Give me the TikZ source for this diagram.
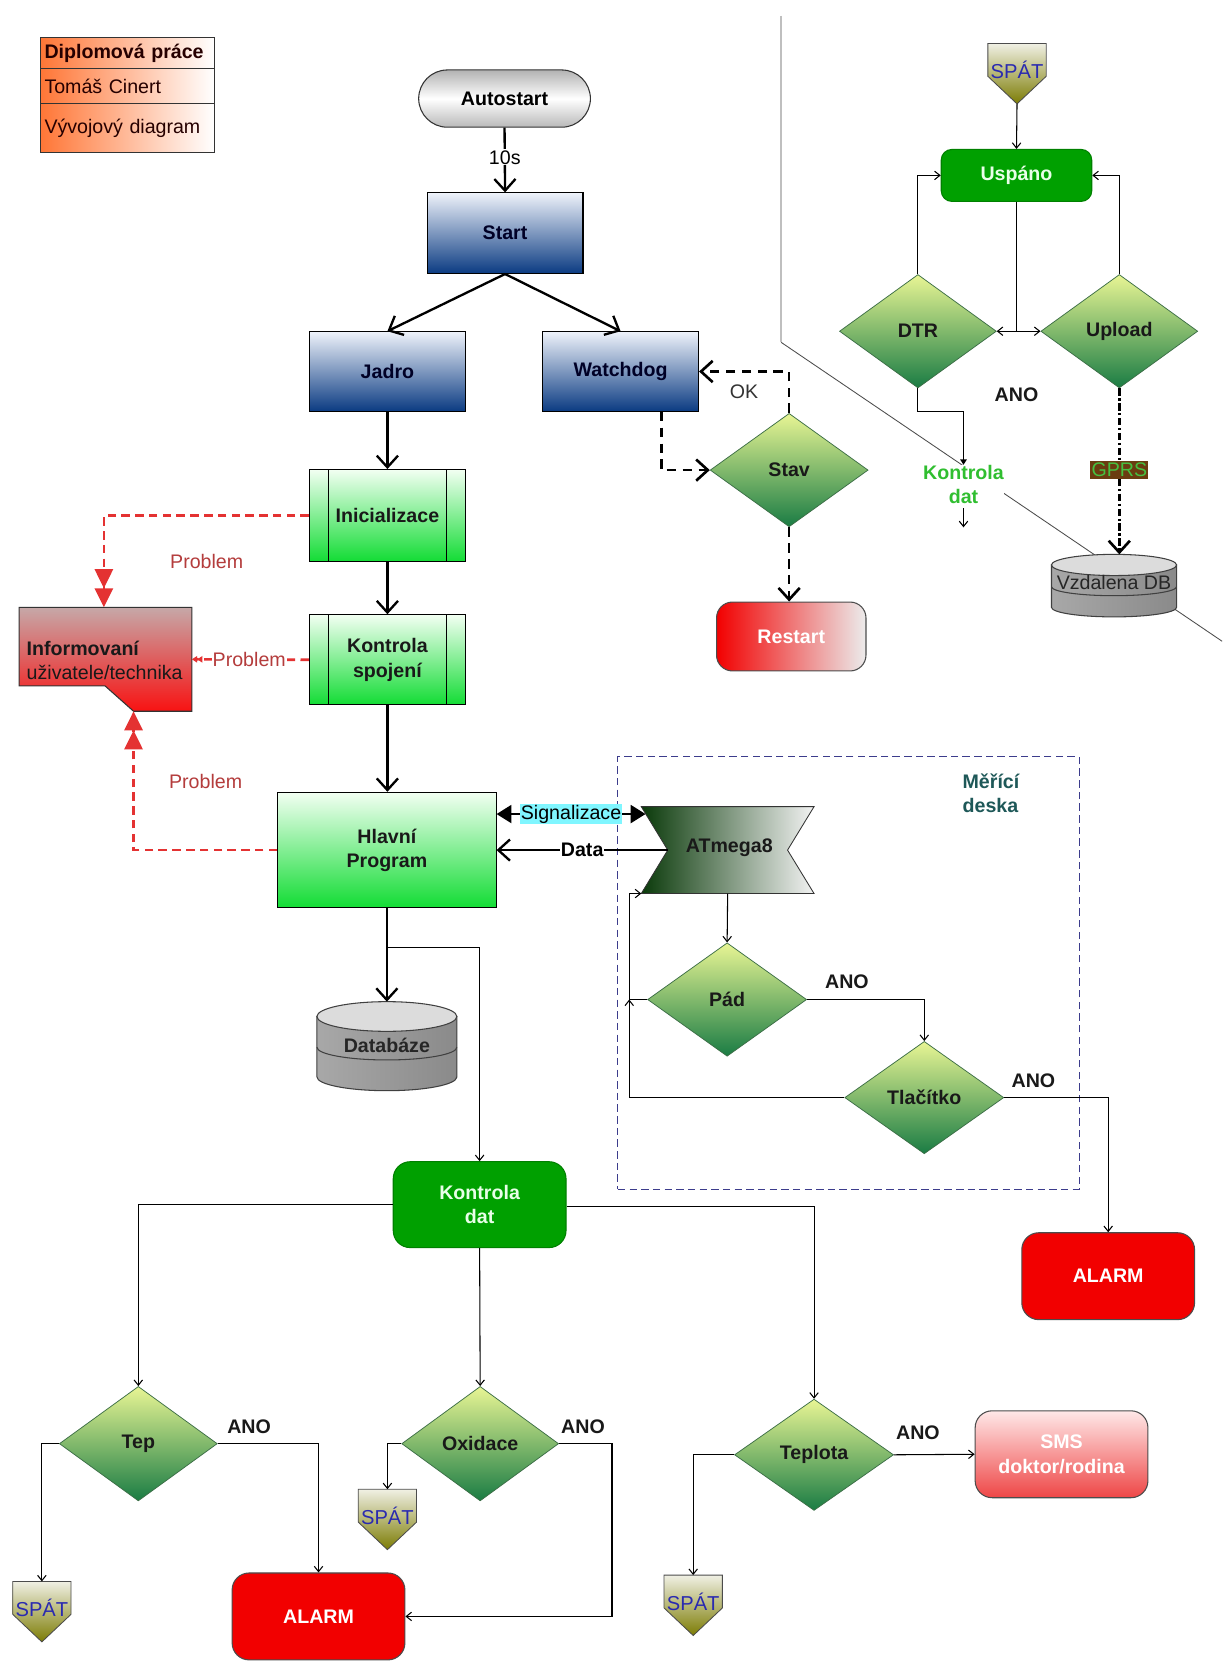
\documentclass[tikz,border=0pt]{standalone}
\usepackage{fontspec}
\setmainfont{Liberation Sans}
\usetikzlibrary{arrows.meta,shapes.geometric,calc}

\definecolor{blueTop}{HTML}{EEF2FA}
\definecolor{blueBot}{HTML}{0B3B82}
\definecolor{grnTop}{HTML}{F2FFF2}
\definecolor{grnBot}{HTML}{12DC34}
\definecolor{dmTop}{HTML}{E8F594}
\definecolor{dmBot}{HTML}{1A7C44}
\definecolor{dmEdge}{HTML}{3C6E46}
\definecolor{okGreen}{HTML}{00A000}
\definecolor{okText}{HTML}{E8FFE8}
\definecolor{alarmRed}{HTML}{F20000}
\definecolor{redLine}{HTML}{E43232}
\definecolor{probText}{HTML}{B43C3C}
\definecolor{infoTop}{HTML}{C6A8A8}
\definecolor{infoBot}{HTML}{F81212}
\definecolor{legOrange}{HTML}{FF7636}
\definecolor{spatTop}{HTML}{F0F0E4}
\definecolor{spatBot}{HTML}{7C7C04}
\definecolor{spatBlue}{HTML}{2A2AB0}
\definecolor{boardBlue}{HTML}{3C3C8C}
\definecolor{boardText}{HTML}{1E5858}
\definecolor{sigCyan}{HTML}{80F6FF}
\definecolor{gprsBrown}{HTML}{6A3C10}
\definecolor{gprsText}{HTML}{46C040}
\definecolor{kdGreen}{HTML}{30BE30}
\definecolor{smsTop}{HTML}{FFE8E8}
\definecolor{smsBot}{HTML}{EE4646}
\definecolor{atmDark}{HTML}{0A3A0A}
\definecolor{dbLight}{HTML}{DCDCDC}
\definecolor{dbMid}{HTML}{A8A8A8}
\definecolor{dbDark}{HTML}{8A8A8A}

\tikzset{
  txt/.style={font=\fontsize{18.5}{23}\selectfont},
  btxt/.style={font=\fontsize{18.5}{23}\selectfont\bfseries},
  bigbarb/.tip={Straight Barb[length=11pt,width=20pt]},
  smallbarb/.tip={Straight Barb[length=5pt,width=8pt]},
  sigtri/.tip={Triangle[length=14pt,width=17pt]},
  heavy/.style={line width=2.2pt,-bigbarb},
  thinline/.style={line width=1pt},
  thinarrow/.style={line width=1pt,-smallbarb},
  blackdash/.style={line width=2.5pt,dash pattern=on 9pt off 6pt,-bigbarb},
  reddash/.style={draw=redLine,line width=2.5pt,dash pattern=on 8pt off 5pt},
  redpair/.style={-{Triangle[length=18pt,width=17pt]Triangle[length=18pt,width=17pt]}},
  minipair/.style={-{Triangle[length=5pt,width=6pt]Triangle[length=5pt,width=6pt]}},
  dashdot/.style={line width=2.5pt,dash pattern=on 7pt off 2.5pt on 2pt off 2.5pt},
  shapebox/.style={rectangle,inner sep=0pt,outer sep=0pt},
  legrow/.style={txt,rectangle,draw=black!80,line width=1pt,text width=156pt,align=left,
    inner xsep=4pt,inner ysep=0pt,left color=legOrange,right color=white,text=black!85!red},
  blueproc/.style={btxt,rectangle,draw=black,line width=1pt,minimum width=147pt,
    minimum height=76pt,top color=blueTop,bottom color=blueBot,text=black!85!blue},
  grnproc/.style={btxt,rectangle,draw=black,line width=1pt,minimum width=147pt,
    top color=grnTop,bottom color=grnBot,align=center,text=black!90},
  decision/.style={btxt,diamond,draw=dmEdge,line width=0.7pt,minimum width=150pt,
    minimum height=107pt,inner sep=0pt,top color=dmTop,bottom color=dmBot,text=black!90},
  terminal/.style={btxt,rectangle,rounded corners=16pt,draw=black!70,line width=1pt,
    minimum width=163pt,minimum height=82pt,align=center},
  annot/.style={btxt,inner sep=1pt,text=black!90},
  prob/.style={txt,text=probText,inner sep=1pt},
  spatshade/.style={draw=black!70,line width=0.8pt,top color=spatTop,bottom color=spatBot},
  spattxt/.style={font=\fontsize{19}{22}\selectfont,text=spatBlue,inner sep=0pt},
  dbbody/.style={draw=black!75,line width=1pt,left color=dbMid,middle color=dbLight,right color=dbDark},
  dbtop/.style={draw=black!75,line width=1pt,fill=dbLight},
}

% return marker: box with a pointed bottom and the word SPÁT
\newcommand{\spatsign}[3]{%
  \node[shapebox,minimum width=55pt,minimum height=57pt] (#1) at (#2,#3) {};
  \shadedraw[spatshade] (#1.north west) -- (#1.north east) -- ([yshift=-31pt]#1.north east)
    -- (#1.south) -- ([yshift=-31pt]#1.north west) -- cycle;
  \node[spattxt] at ([yshift=-25pt]#1.north) {SPÁT};
}

\begin{document}
\begin{tikzpicture}[x=1pt,y=-1pt]
\useasboundingbox (0,0) rectangle (1156,1568);
\fill[white] (0,0) rectangle (1156,1568);

% ---------- separator lines (behind everything) ----------
\draw[gray!50,line width=2pt] (737,15) -- (737,323);
\draw[black!70,line width=0.8pt] (737,323) -- (1153,605);

% ---------- title block ----------
\node[legrow,minimum height=30pt] (leg1) at (120,50) {\bfseries Diplomová práce};
\node[legrow,minimum height=33pt] (leg2) at (120,81.5) {Tomáš Cinert};
\node[legrow,minimum height=46pt] (leg3) at (120,121) {Vývojový diagram};

% ---------- main start-up chain ----------
\node[btxt,rectangle,rounded corners=27pt,draw=black!80,line width=1pt,minimum width=162pt,
  minimum height=54pt,top color=gray!60,bottom color=gray!55,middle color=white] (auto) at (476,93) {Autostart};
\node[blueproc] (start) at (476.5,220) {Start};
\node[blueproc,minimum height=75pt] (jadro) at (365.5,350.5) {Jadro};
\node[blueproc,minimum height=75pt] (wd) at (585.5,350.5) {Watchdog};

\node[grnproc,minimum height=87pt] (inic) at (365.5,486.5) {Inicializace};
\node[grnproc,minimum height=85pt] (kspoj) at (365.5,622.5) {Kontrola\\spojení};
\node[grnproc,minimum width=206pt,minimum height=109pt] (hlavni) at (365,802) {Hlavní\\Program};
\foreach \n in {inic,kspoj}{
  \draw[line width=1pt] ([xshift=18pt]\n.north west) -- ([xshift=18pt]\n.south west);
  \draw[line width=1pt] ([xshift=-18pt]\n.north east) -- ([xshift=-18pt]\n.south east);
}

% ---------- user / technician notice ----------
\node[shapebox,minimum width=163pt,minimum height=98pt] (info) at (99.5,622) {};
\shadedraw[draw=black!80,line width=1pt,top color=infoTop,bottom color=infoBot]
  (info.north west) -- (info.north east) -- (info.south east) -- ([xshift=-55pt]info.south east)
  -- ([xshift=81pt,yshift=-74pt]info.north west) -- ([yshift=-74pt]info.north west) -- cycle;
\node[txt,anchor=west,align=left,inner sep=0pt,text=black!90] (infotxt) at (25,623)
  {\textbf{Informovaní}\\uživatele/technika};

% ---------- watchdog branch ----------
\node[decision,minimum width=149pt] (stav) at (744.5,443.5) {Stav};
\node[terminal,minimum width=141pt,minimum height=65pt,rounded corners=15pt,
  left color=alarmRed,right color=gray!15,text=white] (restart) at (746.5,600.5) {Restart};

% ---------- measuring board ----------
\node[shapebox,draw=boardBlue,line width=1pt,dash pattern=on 7pt off 4pt,
  minimum width=435pt,minimum height=408pt] (board) at (800.5,918) {};
\node[btxt,text=boardText,anchor=west,align=left,inner sep=0pt] (boardlbl) at (908,748.5) {Měřící\\deska};

\node[shapebox,minimum width=163pt,minimum height=82pt] (atm) at (686.5,802) {};
\shadedraw[draw=black!80,line width=0.8pt,left color=atmDark,right color=white!95!black]
  (atm.north west) -- (atm.north east) -- ([xshift=-25pt]atm.east) -- (atm.south east)
  -- (atm.south west) -- ([xshift=25pt]atm.west) -- cycle;
\node[btxt,text=black!90] (atmtxt) at (688,800) {ATmega8};

\node[decision] (pad) at (686,943) {Pád};
\node[decision,minimum height=106pt] (tlac) at (872,1035.5) {Tlačítko};
\node[terminal,fill=alarmRed,text=white] (alarmR) at (1045.5,1204) {ALARM};

% ---------- database ----------
\node[shapebox,minimum width=132pt,minimum height=84pt] (db) at (365,987) {};
\shadedraw[dbbody] ([yshift=-14pt]db.north west) -- ([yshift=13pt]db.south west)
  arc[start angle=180,end angle=360,x radius=66pt,y radius=13pt] -- ([yshift=-14pt]db.north east) -- cycle;
\filldraw[dbtop] ([yshift=-14pt]db.north) ellipse[x radius=66pt,y radius=14pt];
\draw[line width=1pt,black!75] ([yshift=-43pt]db.north west)
  arc[start angle=180,end angle=360,x radius=66pt,y radius=12pt];
\node[btxt,text=black!85] (dbtxt) at (365,986) {Databáze};

% ---------- data evaluation ----------
\node[terminal,minimum height=81pt,fill=okGreen,text=okText,draw=black!50!green] (kdat) at (452.5,1136.5) {Kontrola\\dat};
\node[decision,minimum width=149pt,minimum height=108pt] (tep) at (130.5,1362) {Tep};
\node[decision,minimum width=148pt,minimum height=108pt] (oxi) at (453,1362) {Oxidace};
\node[decision,minimum height=105pt] (tepl) at (768,1372.5) {Teplota};
\node[terminal,fill=alarmRed,text=white] (alarmL) at (300.5,1525) {ALARM};
\node[terminal,top color=smsTop,bottom color=smsBot,text=white] (sms) at (1001.5,1372) {SMS\\doktor/rodina};
\spatsign{spatT}{39.5}{1520.5}
\spatsign{spatO}{365.5}{1433.5}
\spatsign{spatP}{654}{1514.5}

% ---------- sleep / upload loop ----------
\spatsign{spatU}{959.5}{69.5}
\node[terminal,minimum width=142pt,minimum height=49pt,rounded corners=10pt,fill=okGreen,
  text=okText,draw=black!50!green] (usp) at (959,165.5) {Uspáno};
\node[decision,minimum width=148pt] (dtr) at (866,312.5) {DTR};
\node[decision,minimum width=148pt] (upl) at (1056,312.5) {Upload};
\node[btxt,text=kdGreen,fill=white,inner sep=0pt,align=center] (kd2) at (909,457) {Kontrola\\dat};
\node[txt,fill=gprsBrown,text=gprsText,inner xsep=1pt,inner ysep=2pt] (gprs) at (1056,443) {GPRS};

\node[shapebox,minimum width=118pt,minimum height=59pt] (vdb) at (1051,552.5) {};
\shadedraw[dbbody] ([yshift=-10pt]vdb.north west) -- ([yshift=9pt]vdb.south west)
  arc[start angle=180,end angle=360,x radius=59pt,y radius=9pt] -- ([yshift=-10pt]vdb.north east) -- cycle;
\filldraw[dbtop] ([yshift=-10pt]vdb.north) ellipse[x radius=59pt,y radius=10pt];
\draw[line width=1pt,black!75] ([yshift=-30.5pt]vdb.north west)
  arc[start angle=180,end angle=360,x radius=59pt,y radius=8.5pt];
\node[txt,inner sep=0pt,text=black!85] (vdbtxt) at (1051,550) {Vzdalena DB};

% ---------- connectors: start-up ----------
\draw[heavy] (auto.south) -- (start.north) node[txt,pos=0.46,fill=white,inner sep=1pt] (t10) {10s};
\draw[heavy] (start.south) -- (jadro.north);
\draw[heavy] (start.south) -- (wd.north);
\draw[heavy] (jadro.south) -- (inic.north);
\draw[heavy] (inic.south) -- (kspoj.north);
\draw[heavy] (kspoj.south) -- (kspoj.south |- hlavni.north);

% problems reported to the user
\draw[reddash,redpair] (inic.west) -| ([xshift=80pt]info.north west);
\node[prob] (p1) at (195,530) {Problem};
\draw[reddash,minipair] (kspoj.west) -- (info.east) node[prob,pos=0.51,fill=white] (p2) {Problem};
\draw[reddash,redpair] (hlavni.west) -| ([xshift=-55pt]info.south east);
\node[prob] (p3) at (194,737) {Problem};

% watchdog
\draw[blackdash] (stav.north) |- (wd.east);
\node[txt,text=black!80] (okl) at (702,370) {OK};
\draw[blackdash] ([xshift=38.5pt]wd.south) |- (stav.west);
\draw[blackdash] (stav.south) -- (stav.south |- restart.north);

% main program and measuring board
\draw[line width=2pt,sigtri-sigtri] ([yshift=34pt]hlavni.east) -- ([xshift=4pt,yshift=34pt]atm.west)
  node[txt,midway,fill=sigCyan,inner sep=1pt] (sig) {Signalizace};
\draw[heavy] ([xshift=25pt]atm.west) -- (hlavni.east)
  node[btxt,pos=0.5,fill=white,inner sep=1pt] (dlab) {Data};
\draw[thinarrow] (atm.south) -- (pad.north);
\draw[thinarrow] (pad.east) -| (tlac.north);
\node[annot] (ano1) at (799,926) {ANO};
\coordinate (loopA) at ([xshift=-17pt]pad.west);
\draw[thinline] (pad.west) -- (loopA);
\draw[thinarrow] (tlac.west) -| (loopA);
\draw[thinarrow] (loopA) |- (atm.south west);
\draw[thinarrow] (tlac.east) -| (alarmR.north);
\node[annot] (ano2) at (975,1020) {ANO};

% storage and data evaluation
\draw[heavy] (hlavni.south) -- (db.north);
\coordinate (split) at ([yshift=-37pt]hlavni.south);
\draw[thinarrow] (split) -| (kdat.north);
\draw[thinarrow] (kdat.west) -| (tep.north);
\draw[thinarrow] (kdat.south) -- (oxi.north);
\draw[thinarrow] ([yshift=-1.5pt]kdat.east) -| (tepl.north);
\draw[thinarrow] (tep.west) -| (spatT.north);
\draw[thinarrow] (tep.east) -| (alarmL.north);
\node[annot] (ano3) at (235,1346) {ANO};
\draw[thinarrow] (oxi.west) -| (spatO.north);
\draw[thinarrow] (oxi.east) -- ++(50,0) |- (alarmL.east);
\node[annot] (ano4) at (550,1346) {ANO};
\draw[thinarrow] (tepl.east) -- (sms.west);
\node[annot] (ano5) at (866,1352) {ANO};
\draw[thinarrow] (tepl.west) -| (spatP.north);

% sleep / upload loop
\draw[thinarrow] (spatU.south) -- (usp.north);
\coordinate (fork) at (usp.south |- dtr.east);
\draw[thinline] (usp.south) -- (fork);
\draw[thinarrow] (fork) -- (dtr.east);
\draw[thinarrow] (fork) -- (upl.west);
\draw[thinarrow] (dtr.north) |- (usp.west);
\draw[thinarrow] (upl.north) |- (usp.east);
\node[annot] (ano6) at (959,372) {ANO};
\draw[thinline,-{Triangle[length=5pt,width=6pt]}] (dtr.south) -- ++(0,22) -| (kd2.north);
\draw[thinarrow] ([yshift=-4pt]kd2.south) -- ++(0,18);
\draw[dashdot] (upl.south) -- (gprs.north);
\draw[dashdot,-bigbarb] (gprs.south) -- (gprs.south |- vdb.north);
\end{tikzpicture}
\end{document}
